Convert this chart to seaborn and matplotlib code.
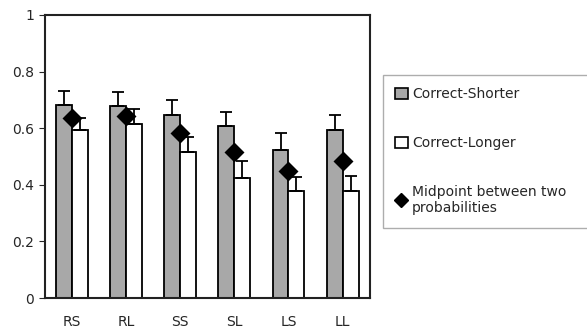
import numpy as np
import pandas as pd
import matplotlib
matplotlib.use("Agg")
import matplotlib.pyplot as plt
import seaborn as sns
from matplotlib.patches import Patch
from matplotlib.lines import Line2D

# values
conditions = ["RS", "RL", "SS", "SL", "LS", "LL"]
shorter = [0.682, 0.678, 0.647, 0.608, 0.523, 0.594]
shorter_err = [0.051, 0.049, 0.053, 0.050, 0.061, 0.053]
longer = [0.594, 0.615, 0.517, 0.423, 0.378, 0.378]
longer_err = [0.043, 0.054, 0.053, 0.062, 0.048, 0.053]
midpoint = [0.637, 0.644, 0.582, 0.517, 0.450, 0.485]
series_names = ["Correct-Shorter", "Correct-Longer"]

df = pd.DataFrame({
    "cond": conditions * 2,
    "series": [series_names[0]] * 6 + [series_names[1]] * 6,
    "value": shorter + longer,
})

sns.set_style("white")
plt.rcParams["font.family"] = ["DejaVu Sans"]

fig = plt.figure(figsize=(5.87, 3.33), dpi=100)
ax = fig.add_axes([0.0767, 0.105, 0.553, 0.85])

sns.barplot(data=df, x="cond", y="value", hue="series", order=conditions,
            hue_order=series_names, palette=["#a8a8a8", "white"],
            width=0.59, gap=0, edgecolor="black", linewidth=1.3,
            errorbar=None, legend=False, ax=ax)

# upward-only error bars, placed on the bar centres
errs = shorter_err + longer_err
for patch, val, err in zip(ax.patches, shorter + longer, errs):
    xc = patch.get_x() + patch.get_width() / 2
    ax.errorbar(xc, val, yerr=[[0], [err]], fmt="none", ecolor="black",
                elinewidth=1.3, capsize=4, capthick=1.3, zorder=3)

sns.pointplot(x=conditions, y=midpoint, order=conditions, linestyle="none",
              markers="D", color="black", markersize=8, ax=ax, zorder=5)

ax.set_ylim(0, 1)
ax.set_xlim(-0.5, 5.5)
ax.set_yticks([0, 0.2, 0.4, 0.6, 0.8, 1.0])
ax.set_yticklabels(["0", "0.2", "0.4", "0.6", "0.8", "1"])
ax.set_xlabel("")
ax.set_ylabel("")
ax.tick_params(axis="y", left=True, length=4, width=0.8, labelsize=10, pad=4)
ax.tick_params(axis="x", bottom=False, labelsize=10, pad=9)
for s in ax.spines.values():
    s.set_color("#222222")
    s.set_linewidth(1.5)

handles = [
    Patch(facecolor="#a8a8a8", edgecolor="black", linewidth=1.2),
    Patch(facecolor="white", edgecolor="black", linewidth=1.2),
    Line2D([], [], marker="D", color="black", linestyle="none", markersize=7),
]
labels = ["Correct-Shorter", "Correct-Longer", "Midpoint between two\nprobabilities"]
leg = fig.legend(handles, labels, loc="upper left",
                 bbox_to_anchor=(0.652, 0.775, 0.40, 0.0), mode="expand",
                 frameon=True, fancybox=False, edgecolor="#999999",
                 fontsize=10, handlelength=0.9, handleheight=0.9,
                 handletextpad=0.3, labelspacing=2.5, borderpad=0.9,
                 borderaxespad=0)
leg.get_frame().set_linewidth(1.0)

fig.savefig("out.png", dpi=100)
